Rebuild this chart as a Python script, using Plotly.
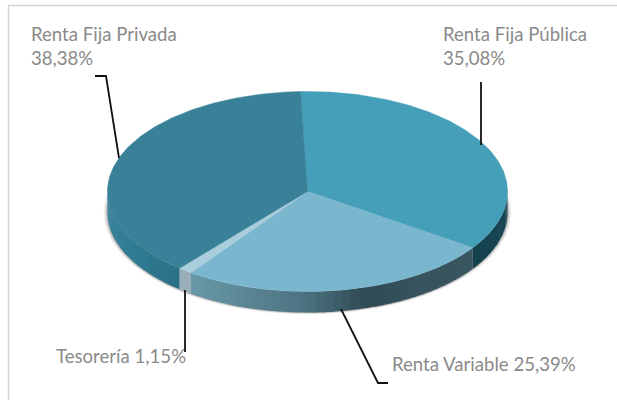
import numpy as np
import plotly.graph_objects as go

labels = ["Renta Fija Pública", "Renta Variable", "Tesorería", "Renta Fija Privada"]
values = [35.08, 25.39, 1.15, 38.38]
top_colors = ["#459fb9", "#7ab7ce", "#aacddb", "#388199"]
# side-wall shade stops per slice (position 0..1 along the clockwise sweep)
side_stops = [
    [(0, "#1a4854"), (1, "#16424f")],
    [(0, "#3a5660"), (0.25, "#37545e"), (0.42, "#2f4a52"), (0.62, "#4d7382"), (1, "#6a9aaa")],
    [(0, "#99aeb6"), (1, "#99aeb6")],
    [(0, "#2a7087"), (0.3, "#2f7a90"), (1, "#3a86a0")],
]
texts = ["Renta Fija Pública<br>35,08%", "Renta Variable 25,39%", "Tesorería 1,15%", "Renta Fija Privada<br>38,38%"]

W, H = 617, 400
CX, CY, RX, RY = 307.5, 191.5, 200, 100
DEPTH = 21
START = -2.0


def hexrgb(c):
    return np.array([int(c[i:i + 2], 16) for i in (1, 3, 5)], float)


def shade(stops, t):
    for (a, ca), (b, cb) in zip(stops, stops[1:]):
        if t <= b:
            f = (t - a) / (b - a)
            r = hexrgb(ca) * (1 - f) + hexrgb(cb) * f
            return "rgb(%d,%d,%d)" % tuple(r)
    return stops[-1][1]


def pt(deg, dy=0.0):
    a = np.radians(deg)
    return CX + RX * np.sin(a), CY - RY * np.cos(a) + dy


fig = go.Figure()


def poly(x, y, color, line=0.0):
    fig.add_trace(go.Scatter(x=x, y=y, mode="lines", fill="toself", fillcolor=color,
                             line=dict(color=color, width=line), hoverinfo="skip", showlegend=False))


# soft shadow around the wall
deg = np.linspace(60, 300, 200)
for grow, alpha in [(4.0, 0.05), (3.0, 0.08), (2.0, 0.12), (1.0, 0.20)]:
    sx, sy = pt(deg, DEPTH)
    topx, topy = pt(deg[::-1], 0)
    k = (RX + grow) / RX
    sx2 = CX + (sx - CX) * k
    sy2 = CY + DEPTH + (sy - CY - DEPTH) * k
    poly(list(sx2) + list(topx), list(sy2) + list(topy), "rgba(60,60,60,%.2f)" % alpha)

# walls then top faces, angles derived from the values
edges = START + np.concatenate([[0], np.cumsum(values)]) / sum(values) * 360
for i in range(len(values)):
    a0, a1 = edges[i], edges[i + 1]
    v0, v1 = max(a0, 90), min(a1, 270)
    if v1 <= v0:
        continue
    n = max(1, int((v1 - v0) / 2.5))
    steps = np.linspace(v0, v1, n + 1)
    for j in range(n):
        # strips overlap the next one slightly so no seams show
        seg = np.linspace(steps[j], min(steps[j + 1] + 0.5, v1), 6)
        xt, yt = pt(seg)
        xb, yb = pt(seg[::-1], DEPTH)
        t = (j + 0.5) / n
        poly(list(xt) + list(xb), list(yt) + list(yb), shade(side_stops[i], t))

for i in range(len(values)):
    seg = np.linspace(edges[i], edges[i + 1], max(3, int(values[i] * 4)))
    x, y = pt(seg)
    poly([CX] + list(x) + [CX], [CY] + list(y) + [CY], top_colors[i], 0.5)

LINE = dict(color="#111111", width=1.8)
leaders = [
    [(481, 82), (481, 145)],
    [(341, 309), (378, 383), (388, 383)],
    [(185, 290), (185, 352)],
    [(95, 76), (106, 76), (119, 158)],
]
for path in leaders:
    d = "M " + " L ".join(f"{a} {b}" for a, b in path)
    fig.add_shape(type="path", path=d, xref="x", yref="y", line=LINE, layer="above")

# chart frame: only top and left edges are in view
fig.add_shape(type="path", path=f"M 8.5 {H} L 8.5 5.5 L {W} 5.5", xref="x", yref="y",
              line=dict(color="#d4d4d4", width=1.5))

FONT = dict(family="Lato, Open Sans, sans-serif", size=18.6, color="#8a8a8a")
anchors = [(443, 45.5), (392, 363.5), (56, 356), (31, 45.5)]
for (ax, ay), t in zip(anchors, texts):
    fig.add_annotation(x=ax, y=ay, xref="x", yref="y", text=t, showarrow=False, xanchor="left",
                       yanchor="middle", align="left", font=FONT, borderpad=0, xshift=-1)

fig.update_layout(width=W, height=H, margin=dict(l=0, r=0, t=0, b=0), showlegend=False,
                  paper_bgcolor="white", plot_bgcolor="white",
                  xaxis=dict(range=[0, W], visible=False, fixedrange=True),
                  yaxis=dict(range=[H, 0], visible=False, fixedrange=True))
fig.write_html("out.html", config={"displayModeBar": False},
               post_script="document.body.style.margin='0';document.body.style.overflow='hidden';")
